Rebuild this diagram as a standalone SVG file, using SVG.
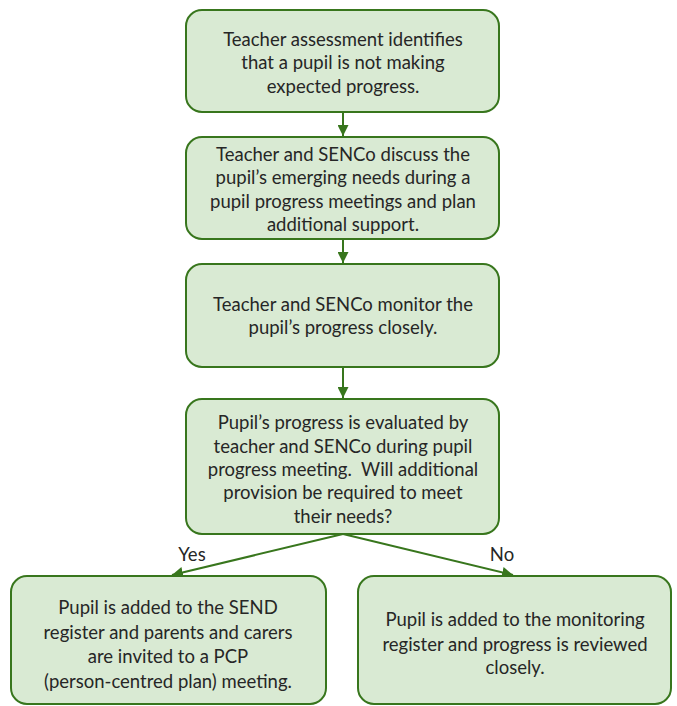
<svg xmlns="http://www.w3.org/2000/svg" width="677" height="706" viewBox="0 0 677 706">
<style>
.box{fill:#d9ead3;stroke:#38761d;stroke-width:2}
.t{font-family:Lato,"Open Sans","Liberation Sans",sans-serif;font-size:18.5px;fill:#262626;text-anchor:middle;white-space:pre}
.c{stroke:#38761d;stroke-width:2;fill:none}
</style>
<defs>
<marker id="ah" viewBox="0 0 10 10" refX="10" refY="5" markerWidth="5.5" markerHeight="5.5" orient="auto" markerUnits="strokeWidth">
<path d="M0,0 L10,5 L0,10 z" fill="#38761d"/>
</marker>
</defs>
<rect width="677" height="706" fill="#ffffff"/>
<g id="connectors">
<line class="c" x1="343" y1="112" x2="343" y2="136" marker-end="url(#ah)"/>
<line class="c" x1="343" y1="239" x2="343" y2="263" marker-end="url(#ah)"/>
<line class="c" x1="343" y1="367" x2="343" y2="398" marker-end="url(#ah)"/>
<line class="c" x1="343" y1="534" x2="172" y2="575" marker-end="url(#ah)"/>
<line class="c" x1="343" y1="534" x2="513" y2="575" marker-end="url(#ah)"/>
<text class="t" x="192" y="561">Yes</text>
<text class="t" x="502" y="561">No</text>
</g>
<g id="n1">
<rect class="box" x="186" y="10" width="313" height="102" rx="16"/>
<text class="t" x="343" y="46">Teacher assessment identifies</text>
<text class="t" x="343" y="69">that a pupil is not making</text>
<text class="t" x="343" y="93">expected progress.</text>
</g>
<g id="n2">
<rect class="box" x="186" y="137" width="313" height="102" rx="16"/>
<text class="t" x="343" y="161">Teacher and SENCo discuss the</text>
<text class="t" x="343" y="184">pupil’s emerging needs during a</text>
<text class="t" x="343" y="208">pupil progress meetings and plan</text>
<text class="t" x="343" y="231">additional support.</text>
</g>
<g id="n3">
<rect class="box" x="186" y="264" width="313" height="103" rx="16"/>
<text class="t" x="343" y="311">Teacher and SENCo monitor the</text>
<text class="t" x="343" y="334">pupil’s progress closely.</text>
</g>
<g id="n4">
<rect class="box" x="186" y="399" width="313" height="135" rx="16"/>
<text class="t" x="343" y="429">Pupil’s progress is evaluated by</text>
<text class="t" x="343" y="453">teacher and SENCo during pupil</text>
<text class="t" x="343" y="476" xml:space="preserve">progress meeting.  Will additional</text>
<text class="t" x="343" y="499">provision be required to meet</text>
<text class="t" x="343" y="523">their needs?</text>
</g>
<g id="n5">
<rect class="box" x="11" y="576" width="315" height="128" rx="16"/>
<text class="t" x="168" y="614">Pupil is added to the SEND</text>
<text class="t" x="168" y="639">register and parents and carers</text>
<text class="t" x="168" y="663">are invited to a PCP</text>
<text class="t" x="168" y="688">(person-centred plan) meeting.</text>
</g>
<g id="n6">
<rect class="box" x="358" y="576" width="313" height="128" rx="16"/>
<text class="t" x="515" y="626">Pupil is added to the monitoring</text>
<text class="t" x="515" y="651">register and progress is reviewed</text>
<text class="t" x="515" y="674">closely.</text>
</g>
</svg>
